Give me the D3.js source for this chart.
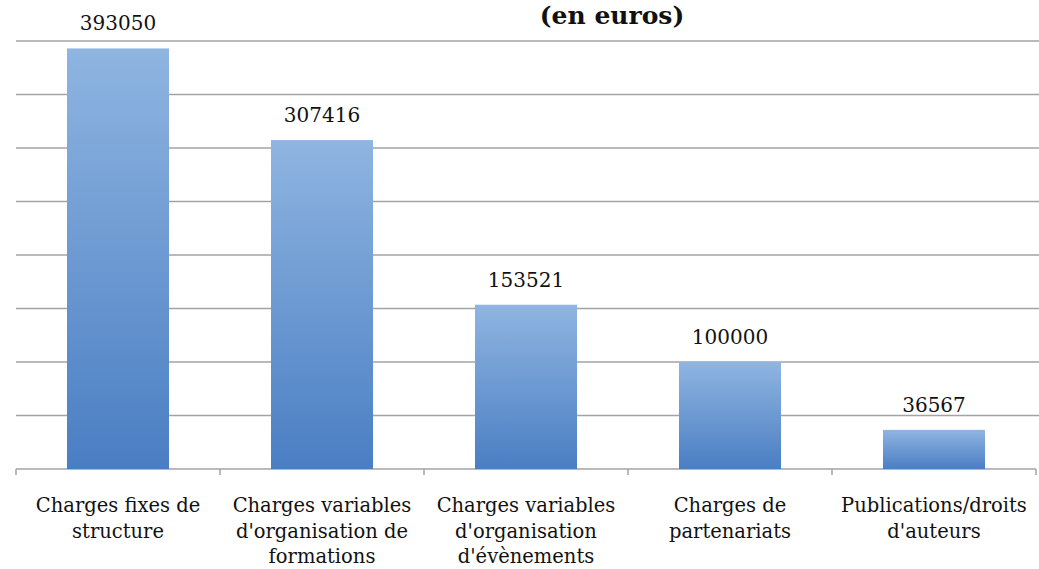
<!DOCTYPE html>
<html>
<head>
<meta charset="utf-8">
<script src="https://cdn.jsdelivr.net/npm/d3@7"></script>
<style>
  body { margin: 0; background: #fff; }
  text { font-family: "DejaVu Serif", serif; fill: #111; }
</style>
</head>
<body>
<svg id="chart"></svg>
<script>
// données
const categories = [
    "Charges fixes de\nstructure",
    "Charges variables\nd'organisation de\nformations",
    "Charges variables\nd'organisation\nd'évènements",
    "Charges de\npartenariats",
    "Publications/droits\nd'auteurs"
];
const values = [393050, 307416, 153521, 100000, 36567];
const gridTicks = [50000, 100000, 150000, 200000, 250000, 300000, 350000, 400000];

// dimensions
const W = 1039, H = 569;
const plotLeft = 16, plotRight = 1036, plotTop = 41, plotBottom = 469;

const svg = d3.select("#chart").attr("width", W).attr("height", H);

// dégradé des barres
const grad = svg.append("defs").append("linearGradient")
    .attr("id", "barGrad").attr("x1", 0).attr("y1", 0).attr("x2", 0).attr("y2", 1);
grad.append("stop").attr("offset", "0%").attr("stop-color", "#8fb5e1");
grad.append("stop").attr("offset", "100%").attr("stop-color", "#4a7ec3");

// échelles
const x = d3.scaleBand()
    .domain(d3.range(categories.length))
    .range([plotLeft, plotRight])
    .paddingInner(0.5)
    .paddingOuter(0.25);

const band = d3.scaleBand()
    .domain(d3.range(categories.length))
    .range([plotLeft, plotRight]);

const y = d3.scaleLinear()
    .domain([0, 400000])
    .range([plotBottom, plotTop]);

// lignes de grille
svg.append("g")
    .selectAll("line")
    .data(gridTicks)
    .enter().append("line")
    .attr("x1", plotLeft).attr("x2", W)
    .attr("y1", function (d) { return y(d); })
    .attr("y2", function (d) { return y(d); })
    .attr("stroke", "#a0a3a7")
    .attr("stroke-width", 1.5);

// axe X
const xAxis = svg.append("g")
    .attr("transform", "translate(0," + plotBottom + ")")
    .call(d3.axisBottom(band).tickSize(0).tickFormat(""));
xAxis.select(".domain").attr("stroke", "#a0a3a7").attr("stroke-width", 1.5)
    .attr("d", "M" + plotLeft + ",0H" + plotRight);
xAxis.selectAll(".tick").remove();

// graduations aux limites des catégories
xAxis.selectAll(".sep")
    .data(d3.range(categories.length + 1))
    .enter().append("line")
    .attr("class", "sep")
    .attr("x1", function (i) { return plotLeft + i * band.bandwidth(); })
    .attr("x2", function (i) { return plotLeft + i * band.bandwidth(); })
    .attr("y1", 0).attr("y2", 6)
    .attr("stroke", "#a0a3a7").attr("stroke-width", 1.5);

// barres
svg.selectAll(".bar")
    .data(values)
    .enter().append("rect")
    .attr("class", "bar")
    .attr("x", function (d, i) { return x(i); })
    .attr("y", function (d) { return y(d); })
    .attr("width", x.bandwidth())
    .attr("height", function (d) { return plotBottom - y(d); })
    .attr("fill", "url(#barGrad)");

// valeurs
svg.selectAll(".val")
    .data(values)
    .enter().append("text")
    .attr("class", "val")
    .attr("x", function (d, i) { return x(i) + x.bandwidth() / 2; })
    .attr("y", function (d) { return y(d) - 18; })
    .attr("text-anchor", "middle")
    .style("font-size", "20px")
    .text(function (d) { return d; });

// étiquettes des catégories
const labels = svg.selectAll(".cat")
    .data(categories)
    .enter().append("text")
    .attr("class", "cat")
    .attr("text-anchor", "middle")
    .style("font-size", "19.5px");
labels.each(function (d, i) {
    const t = d3.select(this);
    d.split("\n").forEach(function (line, k) {
        t.append("tspan")
            .attr("x", band(i) + band.bandwidth() / 2)
            .attr("y", 512 + k * 25.5)
            .text(line);
    });
});

// titre
svg.append("text")
    .attr("x", 612)
    .attr("y", 24)
    .attr("text-anchor", "middle")
    .style("font-size", "25px")
    .style("font-weight", "bold")
    .text("(en euros)");
</script>
</body>
</html>
